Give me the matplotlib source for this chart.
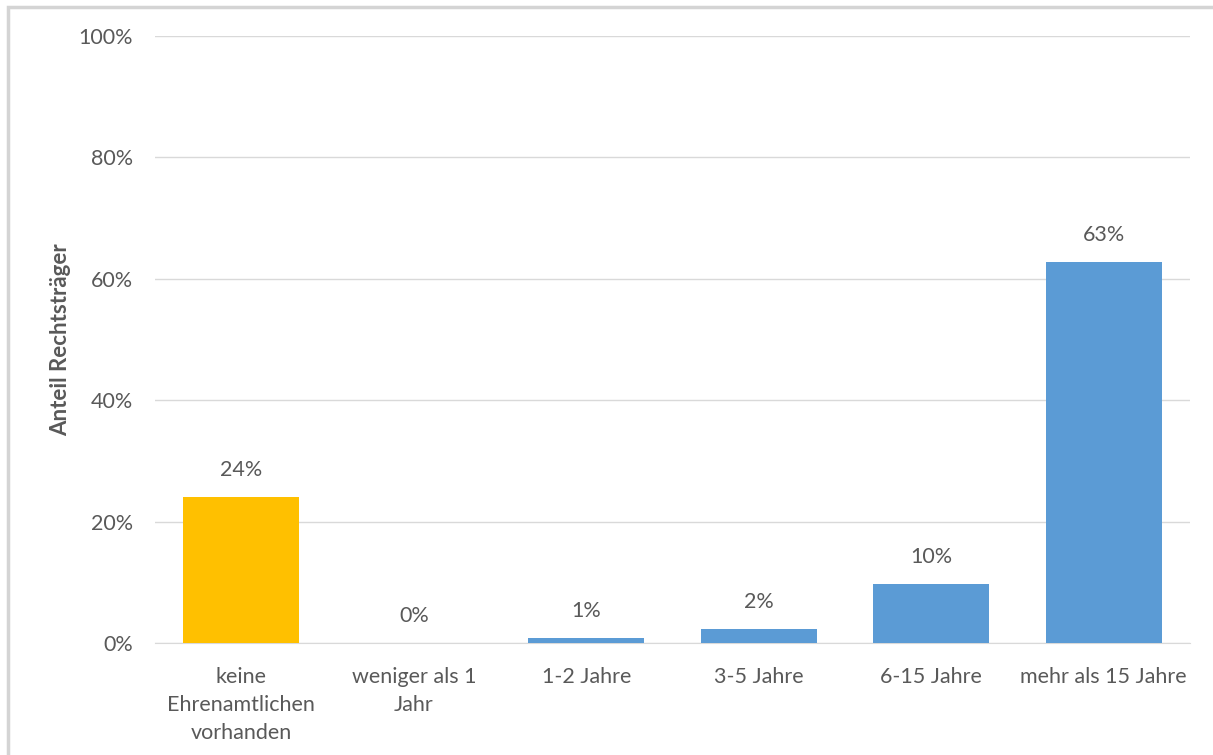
import matplotlib
matplotlib.use("Agg")
import matplotlib.pyplot as plt
from matplotlib.patches import Rectangle

categories = ["keine\nEhrenamtlichen\nvorhanden", "weniger als 1\nJahr", "1-2 Jahre",
              "3-5 Jahre", "6-15 Jahre", "mehr als 15 Jahre"]
values = [24.1, 0.0, 0.9, 2.3, 9.8, 62.8]
labels = ["24%", "0%", "1%", "2%", "10%", "63%"]
colors = ["#FFC000", "#5B9BD5", "#5B9BD5", "#5B9BD5", "#5B9BD5", "#5B9BD5"]
yticks = [0, 20, 40, 60, 80, 100]

plt.rcParams["font.family"] = ["Lato", "DejaVu Sans"]
TXT = "#595959"
FS = 15.5

fig = plt.figure(figsize=(12.13, 7.55), dpi=100, facecolor="white")
# light frame around the chart area
fig.patches.append(Rectangle((8 / 1213, -0.05), 1.1, 1 - 7 / 755 + 0.05,
                             transform=fig.transFigure, fill=False,
                             edgecolor="#d4d4d4", linewidth=2.5))

ax = fig.add_axes([155 / 1213, 1 - 643 / 755, (1190 - 155) / 1213, (643 - 36) / 755])
x = range(len(categories))
ax.bar(x, values, width=0.67, color=colors, zorder=3)
for i, (v, lab) in enumerate(zip(values, labels)):
    ax.annotate(lab, (i, v), xytext=(0, 12), textcoords="offset points",
                ha="center", va="bottom", fontsize=FS, color=TXT)

ax.set_xlim(-0.5, 5.5)
ax.set_ylim(0, 100)
ax.set_yticks(yticks)
ax.set_yticklabels([f"{t}%" for t in yticks])
ax.set_xticks(list(x))
ax.set_xticklabels(categories, linespacing=1.5)
ax.tick_params(axis="both", length=0, labelsize=FS, labelcolor=TXT)
ax.tick_params(axis="y", pad=16)
ax.tick_params(axis="x", pad=17)
ax.grid(axis="y", color="#d9d9d9", linewidth=1, zorder=0)
for s in ["top", "right", "left"]:
    ax.spines[s].set_visible(False)
ax.spines["bottom"].set_color("#d9d9d9")
ax.set_ylabel("Anteil Rechtsträger", fontsize=16, fontweight="bold", color=TXT, labelpad=5)

fig.savefig("out.png", dpi=100, facecolor="white")
